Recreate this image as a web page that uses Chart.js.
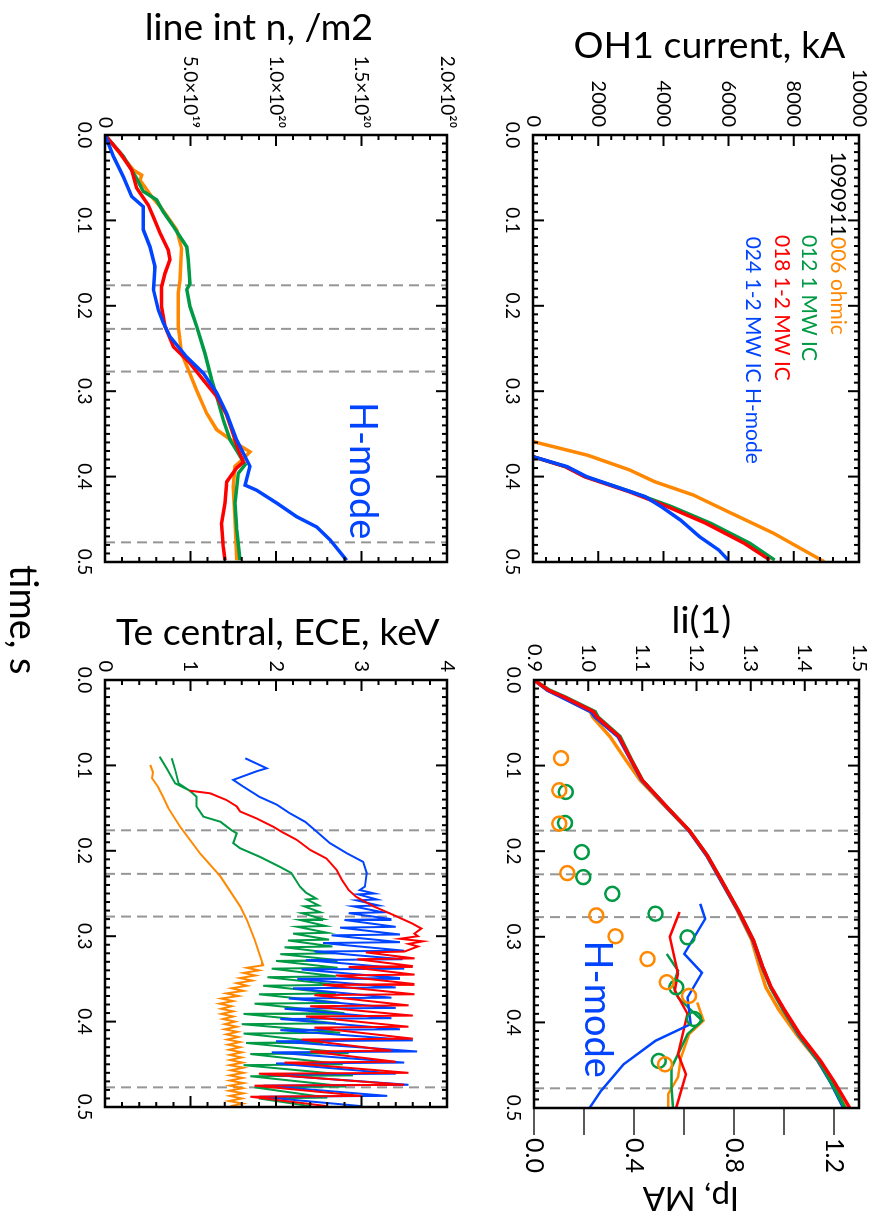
<!DOCTYPE html>
<html>
<head>
<meta charset="utf-8">
<script src="https://cdn.jsdelivr.net/npm/chart.js@4.4.1/dist/chart.umd.min.js"></script>
<style>
  html, body { margin: 0; padding: 0; background: #fff; overflow: hidden; }
  /* the figure is laid out landscape and turned a quarter turn clockwise */
  #fig { position: absolute; left: 0; top: 0; width: 1214px; height: 879px;
         transform-origin: 0 0; transform: translate(879px, 0) rotate(90deg); }
  #fig canvas { position: absolute; }
  #xlabel { position: absolute; left: 565px; top: 835px; font: 38px Lato, sans-serif;
            line-height: 1; color: #000; white-space: nowrap; }
</style>
</head>
<body>
<div id="fig">
  <canvas id="oh1" width="600" height="400" style="left:0;top:0"></canvas>
  <canvas id="li" width="614" height="400" style="left:600px;top:0"></canvas>
  <canvas id="nl" width="600" height="479" style="left:0;top:400px"></canvas>
  <canvas id="te" width="614" height="479" style="left:600px;top:400px"></canvas>
  <div id="xlabel">time, s</div>
</div>
<script>
// ---- data: [time s, value] ----
const timeTicks = [0, 0.1, 0.2, 0.3, 0.4, 0.5];
const timeLabels = ['0.0', '0.1', '0.2', '0.3', '0.4', '0.5'];
const markerTimes = [0.176, 0.227, 0.277, 0.477];

const shots = ['006 ohmic', '012 1 MW IC', '018 1-2 MW IC', '024 1-2 MW IC H-mode'];

const oh1Ticks = [0, 2000, 4000, 6000, 8000, 10000];
const oh1Labels = ['0', '2000', '4000', '6000', '8000', '10000'];
const oh1Orange = [[0.359,0],[0.375,1676],[0.392,2950],[0.406,3735],[0.4215,4912],[0.443,6088],[0.466,7362],[0.4996,8932]];
const oh1Green = [[0.3767,0],[0.3884,1000],[0.4001,1600],[0.4177,3000],[0.4352,4250],[0.4547,5450],[0.4781,6650],[0.4977,7412]];
const oh1Red = [[0.3767,0],[0.3884,991],[0.4001,1578],[0.4177,2950],[0.4352,4127],[0.4547,5304],[0.4781,6480],[0.4977,7265]];
const oh1Blue = [[0.3767,0],[0.3884,1050],[0.4001,1650],[0.4235,3441],[0.4352,3932],[0.4508,4520],[0.4704,5108],[0.4859,5696],[0.4977,5990]];

const neTicks = [0, 5e19, 1e20, 1.5e20, 2e20];
const neLabels = ['0', '5.0\u00d710\u00b9\u2079', '1.0\u00d710\u00b2\u2070', '1.5\u00d710\u00b2\u2070', '2.0\u00d710\u00b2\u2070'];
const neOrange = [[0,0],[0.041,1.66e19],[0.047,2.14e19],[0.053,2.05e19],[0.072,2.73e19],[0.086,3.31e19],[0.111,4.19e19],[0.133,4.48e19],[0.170,4.39e19],[0.185,4.29e19],[0.224,4.29e19],[0.256,4.48e19],[0.275,4.87e19],[0.299,5.36e19],[0.326,5.95e19],[0.345,6.53e19],[0.359,7.50e19],[0.371,8.48e19],[0.379,8.09e19],[0.388,7.60e19],[0.412,7.50e19],[0.451,7.60e19],[0.498,7.70e19]];
const neGreen = [[0,0],[0.025,1.07e19],[0.051,1.85e19],[0.066,2.24e19],[0.076,3.02e19],[0.090,3.41e19],[0.107,4.00e19],[0.119,4.39e19],[0.131,4.78e19],[0.146,4.87e19],[0.174,4.97e19],[0.181,4.78e19],[0.201,4.97e19],[0.224,5.36e19],[0.256,5.85e19],[0.287,6.24e19],[0.306,6.53e19],[0.334,6.92e19],[0.357,7.31e19],[0.373,7.80e19],[0.386,8.19e19],[0.396,7.80e19],[0.431,7.60e19],[0.462,7.70e19],[0.498,7.89e19]];
const neRed = [[0,0],[0.021,0.88e19],[0.041,1.56e19],[0.062,1.85e19],[0.082,2.53e19],[0.096,2.83e19],[0.115,3.22e19],[0.135,3.70e19],[0.146,3.80e19],[0.162,3.51e19],[0.178,3.31e19],[0.201,3.31e19],[0.224,3.51e19],[0.248,4.00e19],[0.267,4.97e19],[0.287,5.75e19],[0.306,6.53e19],[0.328,7.12e19],[0.345,7.41e19],[0.369,7.80e19],[0.383,8.09e19],[0.390,7.70e19],[0.406,7.12e19],[0.431,7.02e19],[0.455,6.82e19],[0.482,6.92e19],[0.498,7.02e19]];
const neBlue = [[0,0],[0.025,0.49e19],[0.049,1.07e19],[0.072,1.56e19],[0.084,2.24e19],[0.111,2.24e19],[0.131,2.63e19],[0.154,2.92e19],[0.181,2.83e19],[0.205,3.12e19],[0.220,3.41e19],[0.236,3.80e19],[0.260,4.78e19],[0.279,5.75e19],[0.302,6.53e19],[0.326,7.12e19],[0.357,7.70e19],[0.388,8.48e19],[0.410,8.19e19],[0.416,8.87e19],[0.431,10.04e19],[0.447,11.21e19],[0.459,12.38e19],[0.474,13.16e19],[0.498,14.13e19]];

const liTicks = [0.9, 1.0, 1.1, 1.2, 1.3, 1.4, 1.5];
const liLabels = ['0.9', '1.0', '1.1', '1.2', '1.3', '1.4', '1.5'];
const liOrange = [[0,0.900],[0.012,0.926],[0.020,0.952],[0.037,1.004],[0.043,1.008],[0.066,1.040],[0.094,1.070],[0.117,1.096],[0.150,1.146],[0.176,1.186],[0.205,1.219],[0.234,1.245],[0.270,1.276],[0.304,1.302],[0.335,1.316],[0.359,1.328],[0.385,1.352],[0.415,1.386],[0.445,1.424],[0.470,1.449],[0.500,1.475]];
const liGreen = [[0,0.900],[0.012,0.929],[0.020,0.958],[0.037,1.013],[0.043,1.018],[0.066,1.059],[0.094,1.081],[0.117,1.100],[0.150,1.148],[0.176,1.187],[0.205,1.220],[0.234,1.246],[0.270,1.278],[0.304,1.305],[0.335,1.322],[0.359,1.337],[0.385,1.360],[0.415,1.390],[0.445,1.426],[0.470,1.449],[0.500,1.474]];
const liRed = [[0,0.900],[0.012,0.927],[0.020,0.956],[0.037,1.010],[0.043,1.016],[0.066,1.057],[0.094,1.080],[0.117,1.100],[0.150,1.148],[0.176,1.187],[0.205,1.220],[0.234,1.246],[0.270,1.278],[0.304,1.305],[0.335,1.322],[0.359,1.338],[0.385,1.362],[0.415,1.392],[0.445,1.429],[0.470,1.455],[0.500,1.483]];
const liBlue = [[0,0.900],[0.012,0.925],[0.020,0.951],[0.037,1.005],[0.043,1.012],[0.066,1.055],[0.094,1.079],[0.117,1.099],[0.150,1.147],[0.176,1.186],[0.205,1.219],[0.234,1.245],[0.270,1.277],[0.304,1.304],[0.335,1.321],[0.359,1.337],[0.385,1.360],[0.415,1.389],[0.445,1.425],[0.470,1.448],[0.500,1.472]];

const ipTicks = [0, 0.2, 0.4, 0.6, 0.8, 1.0, 1.2];
const ipLabels = ['0.0', '', '0.4', '', '0.8', '', '1.2'];
const ipOrange = [[0.3767,0.653],[0.398,0.678],[0.414,0.620],[0.441,0.588],[0.464,0.576],[0.4836,0.537],[0.4996,0.537]];
const ipGreen = [[0.320,0.531],[0.3396,0.576],[0.357,0.556],[0.371,0.576],[0.398,0.672],[0.4137,0.614],[0.4528,0.550],[0.476,0.550],[0.4996,0.556]];
const ipRed = [[0.271,0.582],[0.300,0.543],[0.343,0.576],[0.363,0.563],[0.390,0.614],[0.437,0.576],[0.4605,0.608],[0.4996,0.569]];
const ipBlue = [[0.2615,0.665],[0.279,0.685],[0.320,0.601],[0.342,0.672],[0.371,0.614],[0.402,0.627],[0.4215,0.486],[0.449,0.358],[0.480,0.268],[0.4996,0.223]];
const circOrange = [[0.0913,0.108],[0.1288,0.101],[0.1678,0.101],[0.2256,0.133],[0.275,0.249],[0.2994,0.326],[0.326,0.454],[0.353,0.531],[0.369,0.620],[0.449,0.524]];
const circGreen = [[0.1308,0.127],[0.167,0.124],[0.201,0.191],[0.2303,0.197],[0.2498,0.313],[0.273,0.486],[0.3006,0.614],[0.359,0.569],[0.396,0.640],[0.445,0.499]];

const teTicks = [0, 1, 2, 3, 4];
const teLabels = ['0', '1', '2', '3', '4'];
const teOrange = [[0.0995,0.53],[0.108,0.56],[0.115,0.55],[0.125,0.62],[0.137,0.68],[0.150,0.74],[0.172,0.88],[0.203,1.11],[0.230,1.35],[0.265,1.58],[0.281,1.66],[0.304,1.75],[0.334,1.85],
  [0.337,1.66],[0.340,1.80],[0.343,1.62],[0.346,1.76],[0.349,1.58],[0.352,1.72],[0.355,1.54],[0.358,1.66],[0.361,1.48],[0.364,1.62],[0.367,1.42],[0.370,1.56],[0.373,1.36],[0.376,1.50],[0.379,1.34],[0.382,1.48],[0.385,1.36],[0.388,1.50],[0.391,1.36],[0.394,1.50],[0.397,1.38],[0.400,1.52],[0.403,1.40],[0.406,1.54],[0.409,1.40],[0.412,1.55],[0.415,1.42],[0.418,1.56],[0.421,1.43],[0.424,1.58],[0.427,1.44],[0.430,1.58],[0.433,1.45],[0.436,1.60],[0.439,1.46],[0.442,1.60],[0.445,1.46],[0.448,1.61],[0.451,1.46],[0.454,1.62],[0.457,1.47],[0.460,1.62],[0.463,1.46],[0.466,1.61],[0.469,1.46],[0.472,1.62],[0.475,1.46],[0.478,1.61],[0.481,1.45],[0.484,1.62],[0.487,1.46],[0.490,1.60],[0.493,1.45],[0.496,1.61],[0.499,1.47]];
const teGreen = [[0.0898,0.64],[0.1034,0.72],[0.121,0.82],[0.1296,0.99],[0.1296,null],[0.0917,0.78],[0.105,0.82],[0.121,0.86],[0.1296,0.99],[0.1366,1.07],[0.148,1.07],[0.160,1.15],[0.166,1.35],[0.176,1.48],[0.1795,1.54],[0.191,1.50],[0.197,1.58],[0.207,1.81],[0.219,2.05],[0.226,2.18],[0.242,2.28],[0.249,2.35],
  [0.256,2.47],[0.257,2.36],[0.264,2.50],[0.265,2.33],[0.272,2.52],[0.273,2.30],[0.280,2.55],[0.281,2.28],[0.288,2.58],[0.289,2.25],[0.296,2.60],[0.297,2.20],[0.304,2.62],[0.305,2.14],[0.312,2.66],[0.313,2.10],[0.320,2.68],[0.321,2.05],[0.328,2.72],[0.329,2.00],[0.337,2.72],[0.338,1.95],[0.347,2.70],[0.348,1.90],[0.357,2.72],[0.358,1.85],[0.367,2.70],[0.368,1.80],[0.378,2.75],[0.379,1.75],[0.390,2.80],[0.391,1.62],[0.402,2.70],[0.403,1.60],[0.413,2.75],[0.414,1.62],[0.424,2.55],[0.425,1.65],[0.437,2.85],[0.438,1.70],[0.450,2.78],[0.451,1.62],[0.463,2.90],[0.464,1.70],[0.476,2.82],[0.477,1.75],[0.489,2.60],[0.490,1.80],[0.499,2.40]];
const teRed = [[0.1296,0.99],[0.1327,1.23],[0.1405,1.42],[0.148,1.54],[0.154,1.58],[0.162,1.77],[0.172,1.97],[0.178,2.07],[0.187,2.24],[0.199,2.40],[0.209,2.59],[0.2225,2.71],[0.234,2.77],[0.246,2.85],[0.254,2.94],[0.265,3.14],[0.275,3.37],[0.285,3.59],[0.291,3.70],
  [0.297,3.62],[0.300,3.66],[0.303,3.45],[0.306,3.72],[0.309,3.55],[0.312,3.66],[0.318,3.50],[0.319,3.05],[0.326,3.62],[0.327,2.95],[0.335,3.60],[0.336,2.85],[0.345,3.62],[0.346,2.70],[0.356,3.62],[0.357,2.55],[0.368,3.62],[0.369,2.45],[0.381,3.55],[0.382,2.40],[0.393,3.60],[0.394,2.35],[0.406,3.55],[0.407,2.45],[0.420,3.60],[0.421,2.30],[0.434,3.35],[0.435,2.40],[0.447,3.40],[0.448,2.10],[0.460,3.55],[0.461,1.80],[0.474,3.50],[0.475,1.75],[0.487,3.00],[0.488,1.70],[0.499,2.60]];
const teBlue = [[0.0917,1.64],[0.1034,1.89],[0.107,1.77],[0.117,1.50],[0.125,1.62],[0.137,1.81],[0.146,2.01],[0.156,2.16],[0.166,2.34],[0.178,2.48],[0.191,2.63],[0.203,2.83],[0.213,3.02],[0.226,3.06],[0.242,3.04],
  [0.246,2.98],[0.250,3.15],[0.251,2.96],[0.257,3.18],[0.258,2.94],[0.264,3.20],[0.265,2.90],[0.272,3.25],[0.273,2.85],[0.280,3.35],[0.281,2.80],[0.289,3.40],[0.290,2.75],[0.298,3.45],[0.299,2.65],[0.307,3.45],[0.308,2.55],[0.317,3.50],[0.318,2.45],[0.327,3.48],[0.328,2.35],[0.338,3.50],[0.339,2.30],[0.349,3.45],[0.350,2.25],[0.360,3.40],[0.361,2.20],[0.372,3.35],[0.373,2.15],[0.384,3.40],[0.385,2.10],[0.396,3.35],[0.397,2.05],[0.409,3.45],[0.410,2.05],[0.422,3.60],[0.423,2.00],[0.435,3.65],[0.436,1.95],[0.448,3.50],[0.449,2.00],[0.461,3.40],[0.462,1.90],[0.474,3.55],[0.475,1.85],[0.487,3.30],[0.488,1.80],[0.499,3.00]];

// ---- styling ----
const FONT = 'Lato, "Open Sans", sans-serif';
const ORANGE = 'rgb(255,136,0)', GREEN = 'rgb(0,153,68)', RED = 'rgb(255,0,0)', BLUE = 'rgb(0,68,255)';
Chart.defaults.font.family = FONT;
Chart.defaults.color = '#000';

const pts = arr => arr.map(p => ({x: p[0], y: p[1]}));

function line(data, color, width, extra) {
  return Object.assign({data: pts(data), borderColor: color, borderWidth: width,
    pointRadius: 0, showLine: true, fill: false, tension: 0}, extra || {});
}

function markers(lo, hi) {
  return markerTimes.map(t => ({
    data: [{x: t, y: lo}, {x: t, y: hi}],
    borderColor: 'rgb(150,150,150)', borderWidth: 2, borderDash: [10, 6],
    pointRadius: 0, showLine: true, order: 20
  }));
}

function circles(data, color) {
  return {data: pts(data), yAxisID: 'y2', showLine: false, pointStyle: 'circle',
    pointRadius: 7, pointBorderWidth: 2.5, pointBorderColor: color,
    pointBackgroundColor: 'rgba(0,0,0,0)', order: 5};
}

function timeAxis(h) {
  return {
    type: 'linear', min: 0, max: 0.5,
    afterBuildTicks: s => { s.ticks = timeTicks.map(v => ({value: v})); },
    afterFit: s => { s.height = h; },
    ticks: {autoSkip: false, maxRotation: 0, minRotation: 0, padding: 9,
      font: {size: 19}, callback: (v, i) => timeLabels[i]},
    grid: {display: false, drawTicks: false, tickLength: 0},
    border: {display: false}
  };
}

function valueAxis(o) {
  return {
    type: 'linear', position: o.position || 'left', min: o.min, max: o.max,
    afterBuildTicks: s => { s.ticks = o.ticks.map(v => ({value: v})); },
    afterFit: s => { s.width = o.width; },
    ticks: {autoSkip: false, padding: o.pad !== undefined ? o.pad : 8,
      font: {size: o.tickSize || 20}, callback: (v, i) => o.labels[i]},
    grid: o.grid || {display: false, drawTicks: false, tickLength: 0},
    border: {display: false}
  };
}

// box with inward major/minor ticks on every side
function frame(o) {
  return {
    id: 'frame',
    afterDatasetsDraw(chart) {
      const {ctx, chartArea: a} = chart;
      const xs = chart.scales.x, ys = chart.scales.y;
      ctx.save();
      ctx.strokeStyle = '#000';
      ctx.lineWidth = 2;
      ctx.beginPath();
      for (let k = 0; k <= 50; k++) {
        const px = xs.getPixelForValue(k * 0.01);
        const len = k % 10 === 0 ? 11 : 5;
        ctx.moveTo(px, a.bottom); ctx.lineTo(px, a.bottom - len);
        ctx.moveTo(px, a.top); ctx.lineTo(px, a.top + len);
      }
      const n = Math.round((ys.max - ys.min) / o.minor);
      for (let k = 0; k <= n; k++) {
        const py = ys.getPixelForValue(ys.min + k * o.minor);
        const len = k % o.per === 0 ? 11 : 5;
        ctx.moveTo(a.left, py); ctx.lineTo(a.left + len, py);
        if (o.mirror) { ctx.moveTo(a.right, py); ctx.lineTo(a.right - len, py); }
      }
      ctx.stroke();
      ctx.lineWidth = 2.5;
      ctx.strokeRect(a.left, a.top, a.width, a.height);
      ctx.restore();
    }
  };
}

// text placed at data coordinates; each item is a run of coloured pieces
function notes(items) {
  return {
    id: 'notes',
    afterDatasetsDraw(chart) {
      const ctx = chart.ctx;
      items.forEach(it => {
        let x = chart.scales.x.getPixelForValue(it.t);
        const y = chart.scales[it.axis || 'y'].getPixelForValue(it.v);
        ctx.save();
        ctx.font = it.font;
        ctx.textBaseline = 'middle';
        ctx.textAlign = 'left';
        it.parts.forEach(([txt, col]) => {
          ctx.fillStyle = col;
          ctx.fillText(txt, x, y);
          x += ctx.measureText(txt).width;
        });
        ctx.restore();
      });
    }
  };
}

// axis titles set beside the plot box, centred on a value of their axis
function titles(items) {
  return {
    id: 'titles',
    afterDraw(chart) {
      const ctx = chart.ctx, a = chart.chartArea;
      items.forEach(it => {
        const right = it.side === 'right';
        const y = chart.scales[it.axis || 'y'].getPixelForValue(it.v);
        const x = right ? a.right + it.dx : a.left - it.dx;
        ctx.save();
        ctx.translate(x, y);
        ctx.rotate(right ? Math.PI / 2 : -Math.PI / 2);
        ctx.font = it.size + 'px ' + FONT;
        ctx.fillStyle = '#000';
        ctx.textAlign = 'center';
        ctx.textBaseline = 'middle';
        ctx.fillText(it.text, 0, 0);
        ctx.restore();
      });
    }
  };
}

const base = {responsive: false, animation: false, events: [],
  plugins: {legend: {display: false}, tooltip: {enabled: false}}};

function opts(layoutPad, scales) {
  return Object.assign({}, base, {layout: {padding: layoutPad, autoPadding: false}, scales});
}

// OH1 current
new Chart(document.getElementById('oh1'), {
  type: 'scatter',
  data: {datasets: [
    line(oh1Orange, ORANGE, 3.5, {order: 4}),
    line(oh1Green, GREEN, 3.5, {order: 3}),
    line(oh1Red, RED, 3.5, {order: 2}),
    line(oh1Blue, BLUE, 3.5, {order: 1})
  ]},
  options: opts({left: 0, right: 38, top: 6, bottom: 0}, {
    x: timeAxis(54),
    y: valueAxis({min: 0, max: 10000, ticks: oh1Ticks, labels: oh1Labels, width: 135})
  }),
  plugins: [frame({minor: 400, per: 5, mirror: true}),
    titles([{text: 'OH1 current, kA', v: 5412, dx: 89, size: 37.5}]),
    notes([
      {t: 0.0196, v: 9347, font: '21px ' + FONT, parts: [['1090911', '#000'], [shots[0], ORANGE]]},
      {t: 0.117, v: 8471, font: '21px ' + FONT, parts: [[shots[1], GREEN]]},
      {t: 0.117, v: 7632, font: '21px ' + FONT, parts: [[shots[2], RED]]},
      {t: 0.119, v: 6750, font: '21px ' + FONT, parts: [[shots[3], BLUE]]}
    ])]
});

// li(1) and Ip
new Chart(document.getElementById('li'), {
  type: 'scatter',
  data: {datasets: [
    line(liOrange, ORANGE, 3.5, {order: 4}),
    line(liBlue, BLUE, 3.5, {order: 3}),
    line(liGreen, GREEN, 3.5, {order: 2}),
    line(liRed, RED, 3.5, {order: 1}),
    line(ipOrange, ORANGE, 2.5, {yAxisID: 'y2', order: 9}),
    line(ipGreen, GREEN, 2.5, {yAxisID: 'y2', order: 8}),
    line(ipRed, RED, 2.5, {yAxisID: 'y2', order: 7}),
    line(ipBlue, BLUE, 2.5, {yAxisID: 'y2', order: 6}),
    circles(circOrange, ORANGE),
    circles(circGreen, GREEN)
  ].concat(markers(0.9, 1.5))},
  options: opts({left: 0, right: 0, top: 6, bottom: 0}, {
    x: timeAxis(55),
    y: valueAxis({min: 0.9, max: 1.5, ticks: liTicks, labels: liLabels, width: 80}),
    y2: valueAxis({position: 'right', min: 0, max: 1.3, ticks: ipTicks, labels: ipLabels,
      width: 106, tickSize: 25, pad: 3,
      grid: {display: true, drawOnChartArea: false, drawTicks: true, tickLength: 27,
        color: 'rgb(90,90,90)', lineWidth: 2}})
  }),
  plugins: [frame({minor: 0.02, per: 5, mirror: false}),
    titles([
      {text: 'li(1)', v: 1.209, dx: 59.5, size: 37.5},
      {text: 'Ip, MA', axis: 'y2', side: 'right', v: 0.627, dx: 89.5, size: 33}
    ]),
    notes([{t: 0.3044, v: 0.252, axis: 'y2', font: '38px ' + FONT, parts: [['H-mode', BLUE]]}])]
});

// line integrated density
new Chart(document.getElementById('nl'), {
  type: 'scatter',
  data: {datasets: [
    line(neOrange, ORANGE, 3.5, {order: 4}),
    line(neGreen, GREEN, 3.5, {order: 3}),
    line(neRed, RED, 3.5, {order: 2}),
    line(neBlue, BLUE, 3.5, {order: 1})
  ].concat(markers(0, 2e20))},
  options: opts({left: 0, right: 38, top: 32, bottom: 51}, {
    x: timeAxis(54),
    y: valueAxis({min: 0, max: 2e20, ticks: neTicks, labels: neLabels, width: 135, tickSize: 19, pad: 7})
  }),
  plugins: [frame({minor: 1e19, per: 5, mirror: true}),
    titles([{text: 'line int n, /m2', v: 0.90e20, dx: 107.5, size: 37.5}]),
    notes([{t: 0.3126, v: 1.506e20, font: '38px ' + FONT, parts: [['H-mode', BLUE]]}])]
});

// central Te from ECE
new Chart(document.getElementById('te'), {
  type: 'scatter',
  data: {datasets: [
    line(teOrange, ORANGE, 2, {order: 4}),
    line(teGreen, GREEN, 2, {order: 3}),
    line(teBlue, BLUE, 2, {order: 2}),
    line(teRed, RED, 2, {order: 1})
  ].concat(markers(0, 4))},
  options: opts({left: 0, right: 107, top: 32, bottom: 51}, {
    x: timeAxis(54),
    y: valueAxis({min: 0, max: 4, ticks: teTicks, labels: teLabels, width: 80})
  }),
  plugins: [frame({minor: 0.2, per: 5, mirror: true}),
    titles([{text: 'Te central, ECE, keV', v: 2.02, dx: 47.5, size: 37.5}])]
});
</script>
</body>
</html>
